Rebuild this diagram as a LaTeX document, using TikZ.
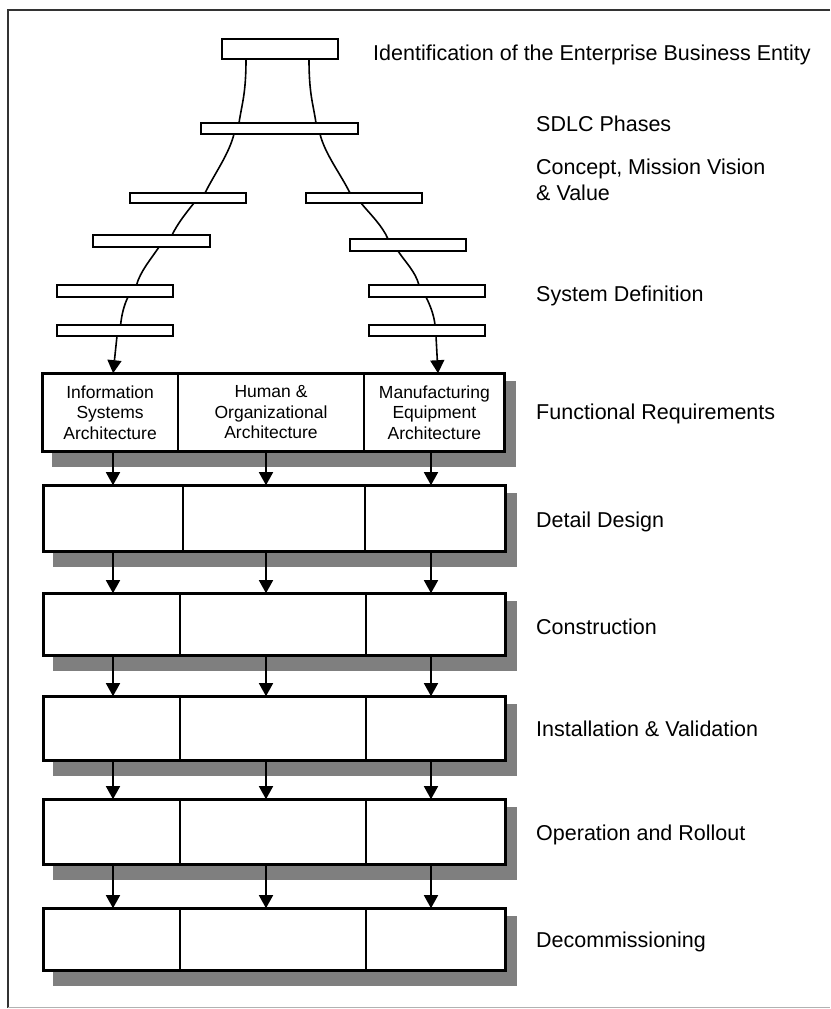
\documentclass[tikz,border=0pt]{standalone}
\usepackage{fontspec}
\setmainfont{Liberation Sans}
\usetikzlibrary{arrows.meta,calc,backgrounds}
\definecolor{shadowgray}{HTML}{7F7F7F}
\begin{document}
\begin{tikzpicture}[x=1pt,y=-1pt,
  bar/.style={draw, line width=2.8pt, fill=white, inner sep=0pt, outer sep=0pt},
  cellbox/.style={draw, line width=2.8pt, fill=white, inner sep=0pt, outer sep=0pt, align=center, font=\fontsize{17.5}{20.5}\selectfont},
  link/.style={line width=1.6pt},
  flow/.style={line width=1.6pt, -{Triangle[length=13pt,width=14pt]}},
  lbl/.style={anchor=base west, inner sep=0pt, align=left, font=\fontsize{21.5}{26}\selectfont},
  shade/.style={fill=shadowgray}]
\useasboundingbox (0,0) rectangle (830,1009);
% frame
\draw[line width=1.5pt, black!80] (830,10) -- (8,10) -- (8,1008);
\draw[line width=1pt, black!30] (8,1007.5) -- (830,1007.5);

% tree of bars
\node[bar, minimum width=116pt, minimum height=20pt] (b0) at (280,49) {};
\node[bar, minimum width=157pt, minimum height=11pt] (b1) at (279.5,128.5) {};
\node[bar, minimum width=116pt, minimum height=10pt] (b2L) at (188,198) {};
\node[bar, minimum width=116pt, minimum height=10pt] (b2R) at (364,198) {};
\node[bar, minimum width=117pt, minimum height=12pt] (b3L) at (151.5,241) {};
\node[bar, minimum width=116pt, minimum height=12pt] (b3R) at (408,245) {};
\node[bar, minimum width=116pt, minimum height=12pt] (b4L) at (115,291) {};
\node[bar, minimum width=116pt, minimum height=12pt] (b4R) at (427,291) {};
\node[bar, minimum width=116pt, minimum height=11pt] (b5L) at (115,330.5) {};
\node[bar, minimum width=116pt, minimum height=11pt] (b5R) at (427,330.5) {};

\draw[link] ($(b0.south)+(-34,0)$) .. controls +(0,35) and +(3,-20) .. ($(b1.north)+(-40.5,0)$);
\draw[link] ($(b0.south)+(29,0)$) .. controls +(0,35) and +(-3,-20) .. ($(b1.north)+(36.5,0)$);
\draw[link] ($(b1.south)+(-45.5,0)$) .. controls +(-5,20) and +(10,-20) .. ($(b2L.north)+(17,0)$);
\draw[link] ($(b1.south)+(40.5,0)$) .. controls +(5,20) and +(-10,-20) .. ($(b2R.north)+(-14,0)$);
\draw[link] ($(b2L.south)+(6,0)$) .. controls +(-8,10) and +(6,-12) .. ($(b3L.north)+(20.5,0)$);
\draw[link] ($(b2R.south)+(-3,0)$) .. controls +(8,10) and +(-6,-14) .. ($(b3R.north)+(-20,0)$);
\draw[link] ($(b3L.south)+(7.5,0)$) .. controls +(-8,12) and +(4,-14) .. ($(b4L.north)+(21.5,0)$);
\draw[link] ($(b3R.south)+(-10,0)$) .. controls +(8,12) and +(-4,-14) .. ($(b4R.north)+(-8,0)$);
\draw[link] ($(b4L.south)+(13,0)$) .. controls +(-4,8) and +(1,-10) .. ($(b5L.north)+(5.6,0)$);
\draw[link] ($(b4R.south)+(-1,0)$) .. controls +(4,8) and +(-1,-10) .. ($(b5R.north)+(8,0)$);

% rows
\node[cellbox, minimum width=135.8pt, minimum height=78.6pt] (r1a) at (110.1,412.5) {Information\\Systems\\Architecture};
\node[cellbox, minimum width=186pt, minimum height=78.6pt] (r1b) at (271,412.5) {Human \&\\Organizational\\Architecture};
\node[cellbox, minimum width=140.8pt, minimum height=78.6pt] (r1c) at (434.4,412.5) {Manufacturing\\Equipment\\Architecture};

\node[cellbox, minimum width=139.8pt, minimum height=66.6pt] (r2a) at (113.1,518.5) {};
\node[cellbox, minimum width=182pt, minimum height=66.6pt] (r2b) at (274,518.5) {};
\node[cellbox, minimum width=140.8pt, minimum height=66.6pt] (r2c) at (435.4,518.5) {};

\node[cellbox, minimum width=136.8pt, minimum height=62.6pt] (r3a) at (111.6,624.5) {};
\node[cellbox, minimum width=186pt, minimum height=62.6pt] (r3b) at (273,624.5) {};
\node[cellbox, minimum width=139.8pt, minimum height=62.6pt] (r3c) at (435.9,624.5) {};

\node[cellbox, minimum width=136.8pt, minimum height=64.6pt] (r4a) at (111.6,728.5) {};
\node[cellbox, minimum width=186pt, minimum height=64.6pt] (r4b) at (273,728.5) {};
\node[cellbox, minimum width=139.8pt, minimum height=64.6pt] (r4c) at (435.9,728.5) {};

\node[cellbox, minimum width=136.8pt, minimum height=65.6pt] (r5a) at (111.6,832) {};
\node[cellbox, minimum width=186pt, minimum height=65.6pt] (r5b) at (273,832) {};
\node[cellbox, minimum width=139.8pt, minimum height=65.6pt] (r5c) at (435.9,832) {};

\node[cellbox, minimum width=136.8pt, minimum height=62.6pt] (r6a) at (111.6,939.5) {};
\node[cellbox, minimum width=186pt, minimum height=62.6pt] (r6b) at (273,939.5) {};
\node[cellbox, minimum width=139.8pt, minimum height=62.6pt] (r6c) at (435.9,939.5) {};

\begin{scope}[on background layer]
\foreach \r in {r1,r2,r3,r4,r5,r6}
  \fill[shade] ($(\r a.north west)+(10,8)$) rectangle ($(\r c.south east)+(11,15)$);
\end{scope}

% arrows
\coordinate (colA) at (113,0);
\coordinate (colB) at (266,0);
\coordinate (colC) at (431,0);
\draw[flow] ($(b5L.south)+(2,0)$) -- ($(r1a.north)+(3,0)$);
\draw[flow] ($(b5R.south)+(9,0)$) -- ($(r1c.north)+(3.6,0)$);
\foreach \u/\l in {r1/r2,r2/r3,r3/r4,r4/r5,r5/r6}{
  \draw[flow] (\u a.south -| colA) -- (\l a.north -| colA);
  \draw[flow] (\u b.south -| colB) -- (\l b.north -| colB);
  \draw[flow] (\u c.south -| colC) -- (\l c.north -| colC);
}

% labels
\node[lbl] (t0) at (373,60) {Identification of the Enterprise Business Entity};
\node[lbl] (t1) at (536,131) {SDLC Phases};
\node[lbl] (t2) at (536,200) {Concept, Mission Vision\\\& Value};
\node[lbl] (t3) at (536,301) {System Definition};
\node[lbl] (t4) at (536,419) {Functional Requirements};
\node[lbl] (t5) at (536,527) {Detail Design};
\node[lbl] (t6) at (536,634) {Construction};
\node[lbl] (t7) at (536,736) {Installation \& Validation};
\node[lbl] (t8) at (536,840) {Operation and Rollout};
\node[lbl] (t9) at (536,947) {Decommissioning};
\end{tikzpicture}
\end{document}
